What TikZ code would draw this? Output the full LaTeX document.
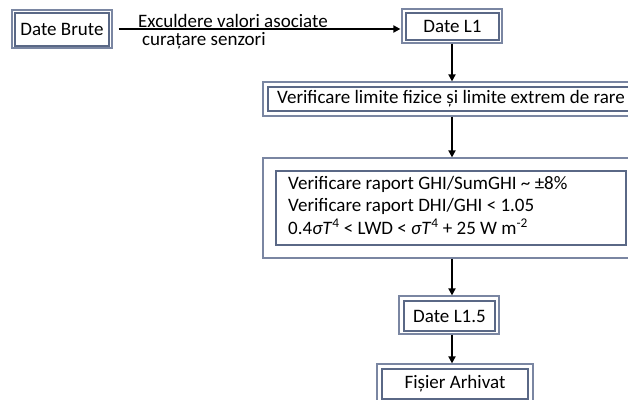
\documentclass[tikz,border=0pt]{standalone}
\usepackage{fontspec}
\setmainfont{Carlito}
\usetikzlibrary{arrows.meta}
\definecolor{boxouter}{HTML}{7A86A2}
\definecolor{boxinner}{HTML}{5A6886}
\begin{document}
\begin{tikzpicture}[x=1pt,y=-1pt,
  obox/.style={draw=boxouter, line width=1.2pt, inner sep=0pt, rectangle},
  ibox/.style={draw=boxinner, line width=1.2pt, inner sep=0pt, rectangle,
    font=\fontsize{19}{22}\selectfont},
  flow/.style={line width=1.8pt, -{Triangle[length=7pt,width=7pt]}},
  lbl/.style={inner sep=0pt, anchor=west, font=\fontsize{19}{22}\selectfont}]
\fill[white] (0,0) rectangle (628,399);
\clip (0,0) rectangle (628,399);
% Date Brute
\node[obox, minimum width=100, minimum height=38] (dbo) at (62,29) {};
\node[ibox, minimum width=94, minimum height=33] (dbi) at (62,29.5) {Date Brute};
% Date L1
\node[obox, minimum width=100, minimum height=34] (l1o) at (452,26) {};
\node[ibox, minimum width=93, minimum height=27] (l1i) at (452.5,26.5) {Date L1};
% Verificare limite
\node[obox, minimum width=378, minimum height=34] (vlo) at (452,99) {};
\node[ibox, minimum width=368, minimum height=24] (vli) at (452,99) {};
\node[lbl] (vlt) at (277,99) {Verificare limite fizice și limite extrem de rare};
% Big box
\node[obox, minimum width=378, minimum height=100] (bbo) at (452,208) {};
\node[ibox, minimum width=350, minimum height=74] (bbi) at (451,208) {};
\node[lbl, align=left, font=\fontsize{19}{22.5}\selectfont] (bbt) at (288,205)
  {Verificare raport GHI/SumGHI \textasciitilde\ ±8\%\\
   Verificare raport DHI/GHI < 1.05\\
   0.4\textit{σT}\textsuperscript{4} < LWD < \textit{σT}\textsuperscript{4} + 25 W m\textsuperscript{-2}};
% Date L1.5
\node[obox, minimum width=100, minimum height=38] (l15o) at (449,315) {};
\node[ibox, minimum width=91, minimum height=30] (l15i) at (449.5,316) {Date L1.5};
% Fisier Arhivat
\node[obox, minimum width=156, minimum height=38] (fao) at (455,383) {};
\node[ibox, minimum width=146, minimum height=30] (fai) at (455,384) {Fișier Arhivat};
% connectors
\draw[flow, shorten <=6pt, shorten >=1pt] (dbo.east) -- (dbo.east -| l1o.west);
\node[lbl] (e1) at (138,21) {Exculdere valori asociate};
\node[lbl] (e2) at (142,41) {curațare senzori};
\draw[flow] (l1o.south) -- (l1o.south |- vlo.north);
\draw[flow] (l1o.south |- vlo.south) -- (l1o.south |- bbo.north);
\draw[flow] (l1o.south |- bbo.south) -- (l1o.south |- l15o.north);
\draw[flow] (l1o.south |- l15o.south) -- (l1o.south |- fao.north);
\end{tikzpicture}
\end{document}
